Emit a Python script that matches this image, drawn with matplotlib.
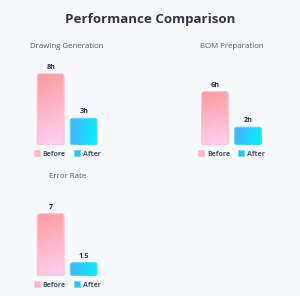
import numpy as np
import matplotlib
matplotlib.use("Agg")
import matplotlib.pyplot as plt
from matplotlib.patches import FancyBboxPatch, Patch
from matplotlib.colors import LinearSegmentedColormap

# ---- data ----
chart_title = "Performance Comparison"
panel_titles = ["Drawing Generation", "BOM Preparation", "Error Rate"]
categories = ["Before", "After"]
before_values = [8, 6, 7]
after_values = [3, 2, 1.5]
before_labels = ["8h", "6h", "7"]
after_labels = ["3h", "2h", "1.5"]

# ---- style ----
BG = "#f8f9fc"
W, H = 300, 296
FONT = ["Open Sans", "DejaVu Sans"]
plt.rcParams["font.family"] = FONT

fig = plt.figure(figsize=(W / 100, H / 100), dpi=100)
fig.patch.set_facecolor(BG)

fig.text(150 / W, 1 - 19 / H, chart_title, ha="center", va="center",
         fontsize=9.6, fontweight="bold", color="#2d3748")

px_per_x = 33.0
px_per_y = 8.9
ylim_top = 9.0
bar_w = 0.81

# panel geometry: (left px, bottom px from top, title x px, title y px)
panels = [
    (34.2, 145, 66.8, 46),
    (198.5, 145, 231.5, 46),
    (34.2, 276, 67.5, 176.7),
]

before_cmap = LinearSegmentedColormap.from_list("b", ["#ff9a9e", "#fecfef"])
after_cmap = LinearSegmentedColormap.from_list("a", ["#4facfe", "#00f2fe"])


def gradient(direction):
    n = 64
    yy, xx = np.mgrid[0:1:n * 1j, 0:1:n * 1j]
    if direction == "before":
        return 0.85 * yy + 0.15 * xx
    return 0.85 * xx + 0.15 * yy


for i, (lx, bpx, tx, ty) in enumerate(panels):
    ax_w = 2 * px_per_x
    ax_h = ylim_top * px_per_y
    ax = fig.add_axes([lx / W, (H - bpx) / H, ax_w / W, ax_h / H])
    ax.set_xlim(-0.5, 1.5)
    ax.set_ylim(0, ylim_top)
    ax.set_facecolor("none")
    ax.axis("off")

    vals = [before_values[i], after_values[i]]
    labs = [before_labels[i], after_labels[i]]
    bars = ax.bar(range(len(categories)), vals, width=bar_w,
                  color="none", edgecolor="none")
    aspect = (1 / px_per_y) / (1 / px_per_x)
    for j, b in enumerate(bars):
        x0, y0 = b.get_x(), b.get_y()
        w, h = b.get_width(), b.get_height()
        r = 2.5 / px_per_x
        patch = FancyBboxPatch((x0, y0), w, h,
                               boxstyle=f"round,pad=0,rounding_size={r}",
                               mutation_aspect=aspect,
                               facecolor="none",
                               edgecolor=("#ffc2cc" if j == 0 else "#5cd6fe"),
                               linewidth=0.8, zorder=3)
        ax.add_patch(patch)
        cmap = before_cmap if j == 0 else after_cmap
        im = ax.imshow(gradient("before" if j == 0 else "after"),
                       cmap=cmap, vmin=0, vmax=0.95,
                       extent=(x0, x0 + w, y0, y0 + h),
                       origin="upper", aspect="auto", zorder=2,
                       interpolation="bilinear")
        im.set_clip_path(patch)
        ax.annotate(labs[j], (x0 + w / 2, y0 + h), xytext=(0, 4.7),
                    textcoords="offset points", ha="center", va="center",
                    fontsize=5.2, fontweight="bold", color="#2d3748")

    ax.set_xlim(-0.5, 1.5)
    ax.set_ylim(0, ylim_top)

    fig.text(tx / W, 1 - ty / H, panel_titles[i], ha="center", va="center",
             fontsize=5.7, color="#4a5568")

    handles = [Patch(facecolor="#ffb3c2", edgecolor="#ffc8d2", linewidth=0.5),
               Patch(facecolor="#26c4fe", edgecolor="#5cd6fe", linewidth=0.5)]
    ax.legend(handles, categories, loc="center",
              bbox_to_anchor=(0.5, -9 / ax_h), ncol=2, frameon=False,
              handlelength=0.9, handleheight=0.9,
              handletextpad=0.4, columnspacing=1.2, borderpad=0,
              prop={"weight": "bold", "size": 5})
    for t in ax.get_legend().get_texts():
        t.set_color("#4a5568")

fig.savefig("out.png", dpi=100, facecolor=BG)
